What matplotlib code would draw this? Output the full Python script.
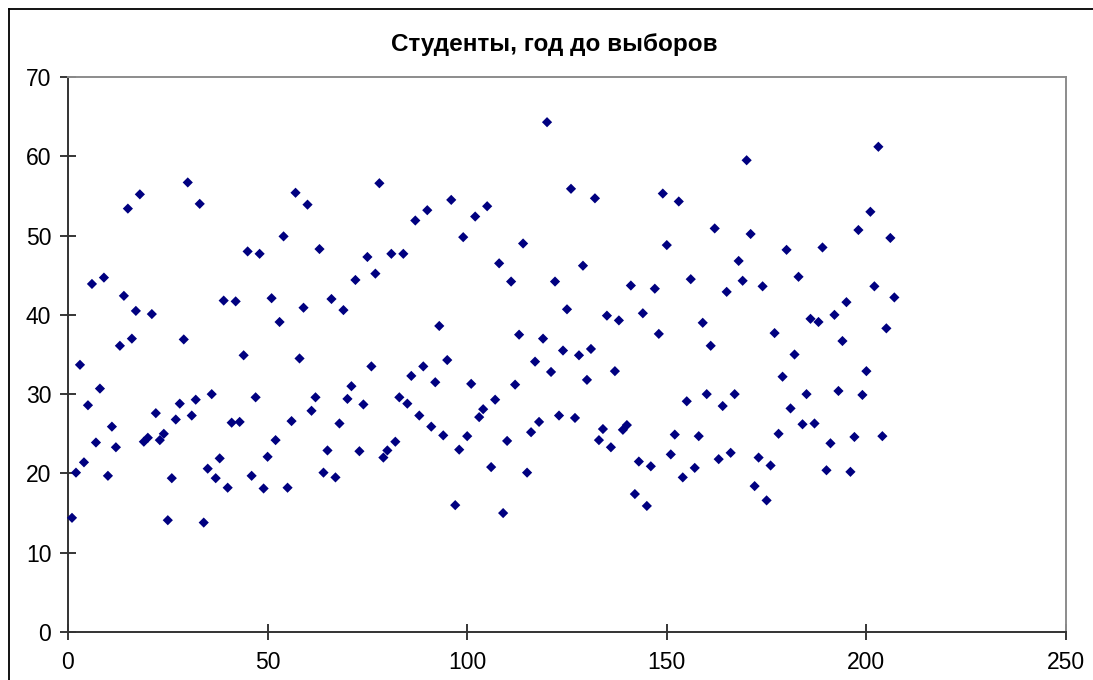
import numpy as np
import matplotlib
matplotlib.use("Agg")
import matplotlib.pyplot as plt
from matplotlib.lines import Line2D

plt.rcParams['font.family'] = ['Liberation Sans', 'DejaVu Sans']

title = "Студенты, год до выборов"
y_values = [
    14.4, 20.1, 33.7, 21.4, 28.6, 43.9, 23.9, 30.7, 44.7, 19.7,
    25.9, 23.3, 36.1, 42.4, 53.4, 37.0, 40.5, 55.2, 24.0, 24.5,
    40.1, 27.6, 24.2, 25.0, 14.1, 19.4, 26.8, 28.8, 36.9, 56.7,
    27.3, 29.3, 54.0, 13.8, 20.6, 30.0, 19.4, 21.9, 41.8, 18.2,
    26.4, 41.7, 26.5, 34.9, 48.0, 19.7, 29.6, 47.7, 18.1, 22.1,
    42.1, 24.2, 39.1, 49.9, 18.2, 26.6, 55.4, 34.5, 40.9, 53.9,
    27.9, 29.6, 48.3, 20.1, 22.9, 42.0, 19.5, 26.3, 40.6, 29.4,
    31.0, 44.4, 22.8, 28.7, 47.3, 33.5, 45.2, 56.6, 22.0, 22.9,
    47.7, 24.0, 29.6, 47.7, 28.8, 32.3, 51.9, 27.3, 33.5, 53.2,
    25.9, 31.5, 38.6, 24.8, 34.3, 54.5, 16.0, 23.0, 49.8, 24.7,
    31.3, 52.4, 27.1, 28.1, 53.7, 20.8, 29.3, 46.5, 15.0, 24.1,
    44.2, 31.2, 37.5, 49.0, 20.1, 25.2, 34.1, 26.5, 37.0, 64.3,
    32.8, 44.2, 27.3, 35.5, 40.7, 55.9, 27.0, 34.9, 46.2, 31.8,
    35.7, 54.7, 24.2, 25.6, 39.9, 23.3, 32.9, 39.3, 25.5, 26.1,
    43.7, 17.4, 21.5, 40.2, 15.9, 20.9, 43.3, 37.6, 55.3, 48.8,
    22.4, 24.9, 54.3, 19.5, 29.1, 44.5, 20.7, 24.7, 39.0, 30.0,
    36.1, 50.9, 21.8, 28.5, 42.9, 22.6, 30.0, 46.8, 44.3, 59.5,
    50.2, 18.4, 22.0, 43.6, 16.6, 21.0, 37.7, 25.0, 32.2, 48.2,
    28.2, 35.0, 44.8, 26.2, 30.0, 39.5, 26.3, 39.1, 48.5, 20.4,
    23.8, 40.0, 30.4, 36.7, 41.6, 20.2, 24.6, 50.7, 29.9, 32.9,
    53.0, 43.6, 61.2, 24.7, 38.3, 49.7, 42.2,
]
x_values = np.arange(1, len(y_values) + 1)
x_ticks = [0, 50, 100, 150, 200, 250]
y_ticks = [0, 10, 20, 30, 40, 50, 60, 70]

W, H = 1093, 680
fig = plt.figure(figsize=(W / 100, H / 100), dpi=100)
fig.patch.set_facecolor('white')

ax = fig.add_axes([68 / W, (H - 632) / H, (1066 - 68) / W, (632 - 77) / H])
ax.scatter(x_values, y_values, marker='D', s=27, color='#000080',
           edgecolors='none', zorder=3, clip_on=False)

ax.set_xlim(0, 250)
ax.set_ylim(0, 70)
ax.set_xticks(x_ticks)
ax.set_yticks(y_ticks)
ax.tick_params(axis='both', direction='inout', length=11, width=1.1,
               colors='black', labelsize=16.5)
ax.tick_params(axis='y', pad=6.5)
ax.tick_params(axis='x', pad=8)

for side in ('left', 'bottom'):
    ax.spines[side].set_color('#333333')
    ax.spines[side].set_linewidth(1.4)
for side in ('top', 'right'):
    ax.spines[side].set_color('#8c8c8c')
    ax.spines[side].set_linewidth(1.4)

fig.text(554 / W, 1 - 45 / H, title, ha='center', va='center',
         fontsize=17.5, fontweight='bold')

# chart area border (left and top visible)
fig.add_artist(Line2D([8.5 / W, 8.5 / W], [0, 1 - 8.5 / H],
                      transform=fig.transFigure, color='black', lw=1.3))
fig.add_artist(Line2D([8.5 / W, 1], [1 - 8.5 / H, 1 - 8.5 / H],
                      transform=fig.transFigure, color='black', lw=1.3))

fig.savefig('out.png', dpi=100)
